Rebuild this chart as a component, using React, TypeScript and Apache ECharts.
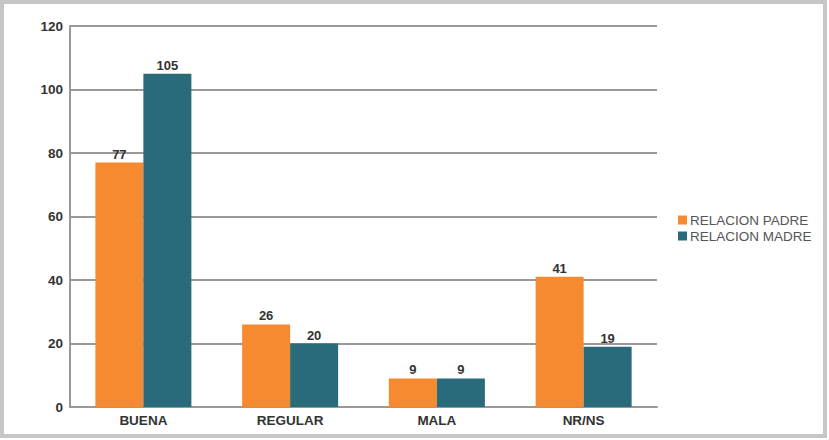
import React, { useEffect, useRef } from "react";
import * as echarts from "echarts";

const categories = ["BUENA", "REGULAR", "MALA", "NR/NS"];
const padreValues = [77, 26, 9, 41];
const madreValues = [105, 20, 9, 19];
const seriesNames = ["RELACION PADRE", "RELACION MADRE"];

export default function App() {
  const ref = useRef<HTMLDivElement>(null);
  useEffect(() => {
    const chart = echarts.init(ref.current!, null, { renderer: "svg" });
    const labelStyle = {
      show: true,
      position: "top" as const,
      distance: 2,
      color: "#333",
      fontWeight: "bold" as const,
      fontSize: 13,
      fontFamily: "Liberation Sans, Arial, sans-serif",
    };
    chart.setOption({
      animation: false,
      backgroundColor: "#fff",
      textStyle: { fontFamily: "Liberation Sans, Arial, sans-serif" },
      graphic: [
        {
          type: "rect",
          shape: { x: 2, y: 2, width: 823, height: 434 },
          style: { fill: "none", stroke: "#c6c6c6", lineWidth: 4 },
          silent: true,
        },
      ],
      grid: { left: 70, right: 172, top: 26, bottom: 33 },
      legend: {
        orient: "vertical",
        left: 673,
        top: 208,
        itemWidth: 9,
        itemHeight: 9,
        itemGap: 2,
        icon: "rect",
        data: seriesNames,
        textStyle: { color: "#555", fontSize: 13.5, padding: [0, 0, 0, -2] },
      },
      xAxis: {
        type: "category",
        data: categories,
        axisLine: { lineStyle: { color: "#999", width: 2 } },
        axisTick: { show: false },
        axisLabel: { color: "#333", fontWeight: "bold", fontSize: 13.5, margin: 6 },
      },
      yAxis: {
        type: "value",
        min: 0,
        max: 120,
        interval: 20,
        axisLine: { show: true, lineStyle: { color: "#999", width: 2 } },
        axisTick: { show: false },
        splitLine: { lineStyle: { color: "#999", width: 2 } },
        axisLabel: { color: "#333", fontWeight: "bold", fontSize: 13.5, margin: 7 },
      },
      series: [
        {
          name: seriesNames[0],
          type: "bar",
          data: padreValues,
          barWidth: 48,
          barGap: "0%",
          itemStyle: { color: "#F68A30" },
          label: labelStyle,
        },
        {
          name: seriesNames[1],
          type: "bar",
          data: madreValues,
          barWidth: 48,
          barGap: "0%",
          itemStyle: { color: "#296B7A" },
          label: labelStyle,
        },
      ],
    });
    return () => chart.dispose();
  }, []);
  return (
    <div
      ref={ref}
      style={{ position: "absolute", left: 0, top: 0, width: 829, height: 440 }}
    />
  );
}
